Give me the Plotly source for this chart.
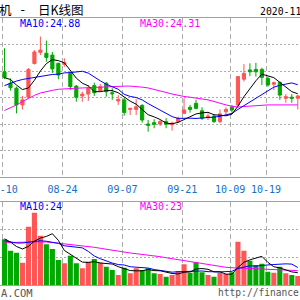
import plotly.graph_objects as go

# ---------------- data ----------------
days = list(range(50))  # trading-day index, 0 = 08-10
tick_idx = [0, 10, 20, 30, 38, 44]
tick_labels = ["08-10", "08-24", "09-07", "09-21", "10-09", "10-19"]

opens = [25.97, 25.54, 25.35, 24.72, 25.01, 26.28, 26.70, 26.67, 26.60, 26.29,
         26.25, 25.91, 25.43, 25.06, 25.13, 25.45, 25.26, 25.54, 25.18, 24.87,
         24.91, 24.55, 24.55, 24.70, 24.00, 24.05, 24.00, 24.09, 23.97, 24.09,
         24.40, 24.63, 24.78, 24.50, 24.25, 24.30, 24.09, 24.46, 24.63, 24.72,
         25.69, 26.04, 26.06, 26.06, 25.72, 25.50, 25.57, 24.97, 25.01, 24.97]
highs = [26.86, 25.72, 25.41, 25.06, 26.11, 26.79, 27.30, 27.15, 26.72, 26.31,
         26.48, 25.97, 25.47, 25.22, 25.47, 25.56, 25.51, 25.58, 25.35, 25.09,
         24.99, 24.60, 24.94, 24.75, 24.15, 24.18, 24.15, 24.22, 24.09, 24.28,
         24.97, 24.72, 24.91, 24.63, 24.40, 24.34, 24.55, 24.63, 24.72, 25.81,
         26.26, 26.29, 26.31, 26.12, 25.79, 25.60, 25.60, 25.13, 25.13, 25.09]
lows = [25.70, 25.26, 24.40, 24.55, 24.98, 26.25, 26.60, 26.35, 25.92, 25.69,
        26.16, 25.28, 24.84, 24.84, 24.87, 25.06, 25.21, 25.03, 24.91, 24.72,
        24.31, 24.34, 24.34, 24.05, 23.71, 23.84, 23.92, 23.84, 23.75, 24.03,
        24.38, 24.43, 24.55, 24.15, 24.15, 24.04, 24.03, 24.34, 24.43, 24.68,
        25.60, 25.81, 25.79, 25.47, 25.41, 25.28, 24.91, 24.80, 24.80, 24.55]
closes = [25.76, 25.37, 24.72, 24.91, 26.06, 26.72, 26.79, 26.51, 26.08, 25.85,
          26.32, 25.41, 25.01, 25.13, 25.35, 25.18, 25.41, 25.22, 25.14, 24.93,
          24.43, 24.59, 24.65, 24.15, 23.95, 23.99, 24.09, 23.99, 24.03, 24.22,
          24.53, 24.55, 24.59, 24.22, 24.30, 24.09, 24.38, 24.55, 24.53, 25.79,
          25.91, 25.97, 25.97, 25.76, 25.47, 25.56, 25.09, 25.03, 24.97, 25.06]

ma5 = [25.75, 25.68, 25.47, 25.30, 25.36, 25.65, 26.00, 26.28, 26.43, 26.39,
       26.31, 26.03, 25.73, 25.54, 25.44, 25.22, 25.22, 25.26, 25.26, 25.18,
       25.03, 24.86, 24.75, 24.55, 24.35, 24.27, 24.17, 24.03, 24.01, 24.06,
       24.17, 24.26, 24.38, 24.42, 24.44, 24.35, 24.32, 24.31, 24.37, 24.67,
       25.03, 25.35, 25.63, 25.88, 25.82, 25.75, 25.57, 25.38, 25.22, 25.14]
ma10 = [25.45, 25.55, 25.62, 25.68, 25.72, 25.75, 25.81, 25.85, 25.87, 25.88,
        25.93, 25.94, 25.97, 25.99, 25.92, 25.76, 25.63, 25.50, 25.40, 25.31,
        25.12, 25.04, 25.00, 24.91, 24.77, 24.65, 24.51, 24.39, 24.28, 24.21,
        24.22, 24.22, 24.21, 24.22, 24.25, 24.26, 24.29, 24.35, 24.40, 24.55,
        24.69, 24.83, 24.97, 25.13, 25.24, 25.39, 25.46, 25.51, 25.55, 25.48]
ma30 = [24.51, 24.60, 24.72, 24.85, 24.98, 25.08, 25.17, 25.23, 25.27, 25.31,
        25.33, 25.35, 25.35, 25.36, 25.37, 25.39, 25.41, 25.42, 25.43, 25.43,
        25.43, 25.43, 25.42, 25.39, 25.36, 25.31, 25.26, 25.19, 25.13, 25.08,
        25.04, 25.01, 24.98, 24.95, 24.91, 24.85, 24.78, 24.72, 24.67, 24.64,
        24.66, 24.68, 24.70, 24.72, 24.72, 24.72, 24.72, 24.72, 24.72, 24.72]

volume = [65.8, 49.4, 46.5, 32.1, 84.0, 104.2, 71.0, 58.6, 51.9, 36.0,
          31.3, 42.2, 31.3, 24.1, 33.6, 37.5, 32.1, 26.4, 21.6, 14.4,
          24.9, 16.9, 24.1, 21.6, 24.1, 16.9, 15.8, 12.0, 14.4, 20.2,
          29.8, 17.7, 32.7, 18.3, 14.4, 12.0, 17.7, 15.8, 18.3, 62.4,
          49.4, 35.0, 28.8, 30.7, 19.2, 17.7, 26.4, 16.9, 14.4, 13.0]
vol_ma5 = [66.6, 61.9, 55.5, 51.9, 55.6, 63.2, 67.6, 70.0, 73.9, 64.3,
           49.8, 44.0, 38.5, 33.0, 32.5, 33.7, 31.7, 30.7, 30.2, 26.4,
           23.9, 20.8, 20.4, 20.4, 22.3, 20.7, 20.5, 18.1, 16.6, 15.9,
           18.4, 18.8, 23.0, 23.7, 22.6, 19.0, 19.0, 15.6, 15.6, 25.2,
           32.7, 36.2, 38.8, 41.3, 32.6, 26.3, 24.6, 22.2, 18.9, 17.7]
vol_ma10 = [63.7, 61.9, 60.5, 60.5, 61.9, 63.4, 63.8, 63.0, 61.9, 60.0,
            56.5, 55.8, 54.3, 53.5, 48.4, 41.8, 37.9, 34.6, 31.6, 29.5,
            28.8, 26.3, 25.6, 25.3, 24.4, 22.3, 20.7, 19.2, 18.5, 19.1,
            19.6, 19.7, 20.5, 20.2, 19.2, 18.7, 18.9, 19.3, 19.7, 23.9,
            25.9, 27.6, 27.2, 28.5, 28.9, 29.5, 30.4, 30.5, 30.1, 25.2]
vol_ma30 = [60.9, 60.9, 61.2, 61.5, 61.9, 62.2, 62.4, 61.9, 61.2, 60.2,
            59.5, 58.6, 58.1, 57.2, 55.8, 54.3, 52.9, 51.4, 50.0, 48.5,
            47.1, 46.1, 45.1, 44.2, 43.2, 42.1, 40.8, 39.3, 37.9, 36.4,
            35.0, 33.6, 32.1, 30.7, 29.2, 27.8, 26.7, 25.5, 24.9, 24.5,
            24.1, 23.8, 23.3, 23.0, 22.6, 22.3, 21.9, 21.6, 21.2, 20.7]

title_parts = ["机", "-", "日K线图"]
date_text = "2020-11"
ma_price_labels = ["MA10:24.88", "MA30:24.31"]
ma_vol_labels = ["MA10:24", "MA30:23"]
footer_left = "A.COM"
footer_right = "http://finance"

# ---------------- style ----------------
RED = "#FF5555"
GREEN = "#00A800"
GRID = "#ABABAB"
FRAME = "#A0A0A0"
TICKBLUE = "#1470C8"
MONO = "DejaVu Sans Mono"
CJK = "Noto Sans CJK SC"

W = H = 300


def px(x):
    return x / W


def py(y):
    return 1 - y / H


fig = go.Figure()

fig.add_trace(go.Candlestick(
    x=days, open=opens, high=highs, low=lows, close=closes,
    xaxis="x", yaxis="y",
    increasing=dict(line=dict(color=RED, width=1), fillcolor=RED),
    decreasing=dict(line=dict(color=GREEN, width=1), fillcolor=GREEN),
    whiskerwidth=0, showlegend=False, hoverinfo="skip"))

for vals, col in [(ma30, "#FF00FF"), (ma10, "#0000FF"), (ma5, "#000000")]:
    fig.add_trace(go.Scatter(x=days, y=vals, mode="lines", xaxis="x", yaxis="y",
                             line=dict(color=col, width=1), showlegend=False,
                             hoverinfo="skip"))

bar_colors = [RED if c >= o else GREEN for o, c in zip(opens, closes)]
fig.add_trace(go.Bar(x=days, y=volume, xaxis="x2", yaxis="y2",
                     marker=dict(color=bar_colors, line=dict(width=0)),
                     showlegend=False, hoverinfo="skip"))
for vals, col in [(vol_ma30, "#FF00FF"), (vol_ma10, "#0000FF"), (vol_ma5, "#000000")]:
    fig.add_trace(go.Scatter(x=days, y=vals, mode="lines", xaxis="x2", yaxis="y2",
                             line=dict(color=col, width=1), showlegend=False,
                             hoverinfo="skip"))

xr = [-0.75, 49.37]
tickpos = [i - 0.3 for i in tick_idx]
common_x = dict(range=xr, showgrid=True, gridcolor=GRID, gridwidth=1,
                griddash="5px,3px", tickvals=tickpos, ticks="",
                showline=True, linecolor=FRAME, linewidth=1, mirror=True,
                zeroline=False, fixedrange=True, automargin=False)

fig.update_layout(
    template="none",
    width=W, height=H, margin=dict(l=0, r=0, t=0, b=0, pad=0, autoexpand=False),
    paper_bgcolor="white", plot_bgcolor="white",
    bargap=0.15, boxgap=0.25,
    xaxis=dict(domain=[0, 1], anchor="y", ticktext=tick_labels,
               tickfont=dict(family=MONO, size=10, color=TICKBLUE),
               ticklabeloverflow="allow", ticklabelstandoff=3,
               rangeslider=dict(visible=False), **common_x),
    xaxis2=dict(domain=[0, 1], anchor="y2", showticklabels=False,
                matches="x", **common_x),
    yaxis=dict(domain=[py(177), py(18)], range=[22, 28],
               tickvals=[23, 24, 25, 26, 27], showgrid=True, gridcolor=GRID,
               griddash="2px,2px", gridwidth=1, showticklabels=False,
               zeroline=False, ticks="", fixedrange=True, automargin=False,
               showline=False),
    yaxis2=dict(domain=[py(285), py(201.7)], range=[0, 120],
                tickvals=[40, 80], showgrid=True, gridcolor=GRID,
                griddash="2px,2px", gridwidth=1, showticklabels=False,
                zeroline=False, ticks="", fixedrange=True, automargin=False,
                showline=False),
)

ann = []


def add_text(text, x, y, color, size, family, xanchor="left"):
    ann.append(dict(text=text, x=px(x), y=py(y), xref="paper", yref="paper",
                    xanchor=xanchor, yanchor="middle", showarrow=False,
                    font=dict(color=color, size=size, family=family)))


add_text(title_parts[0], -3, 9.5, "#000000", 12.5, CJK)
add_text(title_parts[1], 22.5, 9.5, "#000000", 12.5, MONO, xanchor="center")
add_text(title_parts[2], 36, 9.5, "#000000", 12.5, CJK)
add_text(date_text, 258, 11.5, "#000000", 9.8, MONO)
add_text(ma_price_labels[0], 17.5, 23.5, "#0000FF", 10, MONO)
add_text(ma_price_labels[1], 137.5, 23.5, "#FF00FF", 10, MONO)
add_text(ma_vol_labels[0], 17.5, 206.7, "#0000FF", 10, MONO)
add_text(ma_vol_labels[1], 137.5, 206.7, "#FF00FF", 10, MONO)
add_text(footer_left, -1, 292.5, "#555555", 10.5, MONO)
add_text(footer_right, 216, 292.5, "#555555", 9.6, MONO)

fig.update_layout(annotations=ann)

fig.write_html("out.html", config={"displayModeBar": False, "staticPlot": True})
